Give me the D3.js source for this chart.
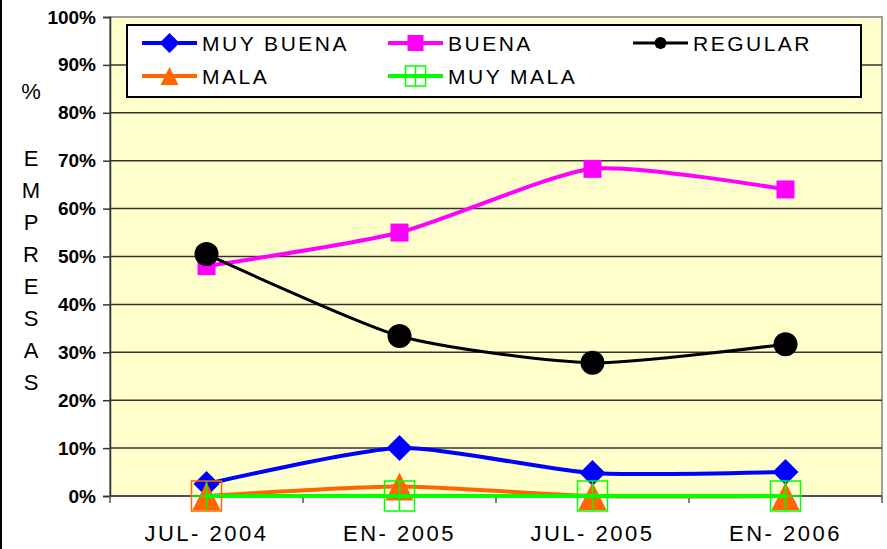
<html>
<head>
<meta charset="utf-8">
<script src="https://cdnjs.cloudflare.com/ajax/libs/d3/7.8.5/d3.min.js"></script>
<style>
  body { margin: 0; background: #fff; }
  svg text { font-family: "Liberation Sans", Arial, sans-serif; }
</style>
</head>
<body>
<div id="chart"></div>
<script>
var categories = ["JUL-2004", "EN-2005", "JUL-2005", "EN-2006"];
var catLabels = ["JUL- 2004", "EN- 2005", "JUL- 2005", "EN- 2006"];
var muyBuena = [2.5, 10, 4.8, 5];
var buena = [48, 55, 68.3, 64];
var regular = [50.5, 33.4, 27.8, 31.7];
var mala = [0, 2, 0, 0];
var muyMala = [0, 0, 0, 0];
var yTicks = [0, 10, 20, 30, 40, 50, 60, 70, 80, 90, 100];
var axisTitle = ["%", "E", "M", "P", "R", "E", "S", "A", "S"];

var series = [
  { name: "MUY BUENA", values: muyBuena, color: "#0000ff", width: 4, marker: "diamond" },
  { name: "BUENA", values: buena, color: "#ff00ff", width: 4, marker: "square" },
  { name: "REGULAR", values: regular, color: "#000000", width: 3, marker: "circle" },
  { name: "MALA", values: mala, color: "#ff6600", width: 4, marker: "triangle" },
  { name: "MUY MALA", values: muyMala, color: "#00ff00", width: 4, marker: "box" }
];

var W = 887, H = 549;
var plotLeft = 110, plotRight = 882, plotTop = 17, plotBottom = 496;

var svg = d3.select("#chart").append("svg")
  .attr("width", W).attr("height", H);

// outer chart border (left edge visible)
svg.append("line").attr("x1", 1).attr("x2", 1).attr("y1", 0).attr("y2", H)
  .attr("stroke", "#000").attr("stroke-width", 2);

var x = d3.scaleBand().domain(categories).range([plotLeft, plotRight]);
var y = d3.scaleLinear().domain([0, 100]).range([plotBottom, plotTop]);
function cx(i) { return x(categories[i]) + x.bandwidth() / 2; }

// plot area
svg.append("rect").attr("x", plotLeft).attr("y", plotTop)
  .attr("width", plotRight - plotLeft).attr("height", plotBottom - plotTop)
  .attr("fill", "#ffffcc").attr("stroke", "#808080").attr("stroke-width", 1.5);

// gridlines
svg.append("g").selectAll("line")
  .data(yTicks.filter(function(d) { return d > 0 && d < 100; }))
  .enter().append("line")
  .attr("x1", plotLeft).attr("x2", plotRight)
  .attr("y1", function(d) { return y(d); }).attr("y2", function(d) { return y(d); })
  .attr("stroke", "#333").attr("stroke-width", 1.5);

// y axis
var yAxis = svg.append("g").attr("transform", "translate(" + plotLeft + ",0)")
  .call(d3.axisLeft(y).tickValues(yTicks).tickSize(7).tickPadding(7)
    .tickFormat(function(d) { return d + "%"; }));
yAxis.select(".domain").attr("stroke", "#333").attr("stroke-width", 1.5);
yAxis.selectAll(".tick line").attr("stroke", "#333").attr("stroke-width", 1.5);
yAxis.selectAll("text").attr("font-size", 19).attr("font-weight", "bold")
  .attr("font-family", "Liberation Sans, Arial, sans-serif").attr("fill", "#000");

// x axis line and ticks between categories
svg.append("line").attr("x1", plotLeft).attr("x2", plotRight)
  .attr("y1", plotBottom).attr("y2", plotBottom)
  .attr("stroke", "#333").attr("stroke-width", 1.5);
var bounds = categories.map(function(c) { return x(c); }).concat([plotRight]);
svg.append("g").selectAll("line").data(bounds).enter().append("line")
  .attr("x1", function(d) { return d; }).attr("x2", function(d) { return d; })
  .attr("y1", plotBottom).attr("y2", plotBottom + 7)
  .attr("stroke", "#555").attr("stroke-width", 1.5);
svg.append("g").selectAll("text").data(catLabels).enter().append("text")
  .attr("x", function(d, i) { return cx(i); })
  .attr("y", 541)
  .attr("text-anchor", "middle")
  .attr("font-size", 22)
  .attr("letter-spacing", 2.5)
  .text(function(d) { return d; });

// y axis title, stacked letters
svg.append("g").selectAll("text").data(axisTitle).enter().append("text")
  .attr("x", 31)
  .attr("y", function(d, i) { return i === 0 ? 99 : 166 + (i - 1) * 32; })
  .attr("text-anchor", "middle")
  .attr("font-size", 22)
  .text(function(d) { return d; });

// markers
function drawMarker(g, s, px, py, legend, idx) {
  if (s.marker === "diamond") {
    var r = legend ? 10 : 13;
    g.append("path").attr("d", "M" + px + "," + (py - r) + "L" + (px + r) + "," + py +
      "L" + px + "," + (py + r) + "L" + (px - r) + "," + py + "Z").attr("fill", s.color);
  } else if (s.marker === "square") {
    var h = legend ? 8 : 9;
    g.append("rect").attr("x", px - h).attr("y", py - h).attr("width", 2 * h).attr("height", 2 * h)
      .attr("fill", s.color);
  } else if (s.marker === "circle") {
    g.append("circle").attr("cx", px).attr("cy", py).attr("r", legend ? 6 : 12).attr("fill", s.color);
  } else if (s.marker === "triangle") {
    var t = legend ? 9 : 14;
    g.append("path").attr("d", "M" + px + "," + (py - t) + "L" + (px + t) + "," + (py + t) +
      "L" + (px - t) + "," + (py + t) + "Z").attr("fill", s.color);
  } else if (s.marker === "box") {
    var b = legend ? 10 : 15;
    // first box in the reference shows an orange outline
    var bc = (!legend && idx === 0) ? "#ff6600" : s.color;
    g.append("rect").attr("x", px - b).attr("y", py - b).attr("width", 2 * b).attr("height", 2 * b)
      .attr("fill", "none").attr("stroke", bc).attr("stroke-width", 1.5);
    g.append("line").attr("x1", px).attr("x2", px).attr("y1", py - b).attr("y2", py + b)
      .attr("stroke", s.color).attr("stroke-width", 1.5);
    g.append("line").attr("x1", px - b).attr("x2", px + b).attr("y1", py).attr("y2", py)
      .attr("stroke", s.color).attr("stroke-width", 1.5);
  }
}

var line = d3.line()
  .x(function(d, i) { return cx(i); })
  .y(function(d) { return y(d); })
  .curve(d3.curveCardinal.tension(0.35));

series.forEach(function(s) {
  var g = svg.append("g");
  g.append("path").datum(s.values).attr("d", line)
    .attr("fill", "none").attr("stroke", s.color).attr("stroke-width", s.width);
  s.values.forEach(function(v, i) { drawMarker(g, s, cx(i), y(v), false, i); });
});

// legend
var lg = svg.append("g");
lg.append("rect").attr("x", 127).attr("y", 25).attr("width", 734).attr("height", 72)
  .attr("fill", "#fff").attr("stroke", "#000").attr("stroke-width", 2);
var legendPos = [[142, 43], [388, 43], [633, 43], [142, 76], [388, 76]];
series.forEach(function(s, i) {
  var px = legendPos[i][0], py = legendPos[i][1];
  var g = lg.append("g");
  g.append("line").attr("x1", px).attr("x2", px + 55).attr("y1", py).attr("y2", py)
    .attr("stroke", s.color).attr("stroke-width", s.width);
  drawMarker(g, s, px + 27.5, py, true, i);
  g.append("text").attr("x", px + 60).attr("y", py + 8)
    .attr("font-size", 21).attr("letter-spacing", 2.5)
    .text(s.name);
});
</script>
</body>
</html>
